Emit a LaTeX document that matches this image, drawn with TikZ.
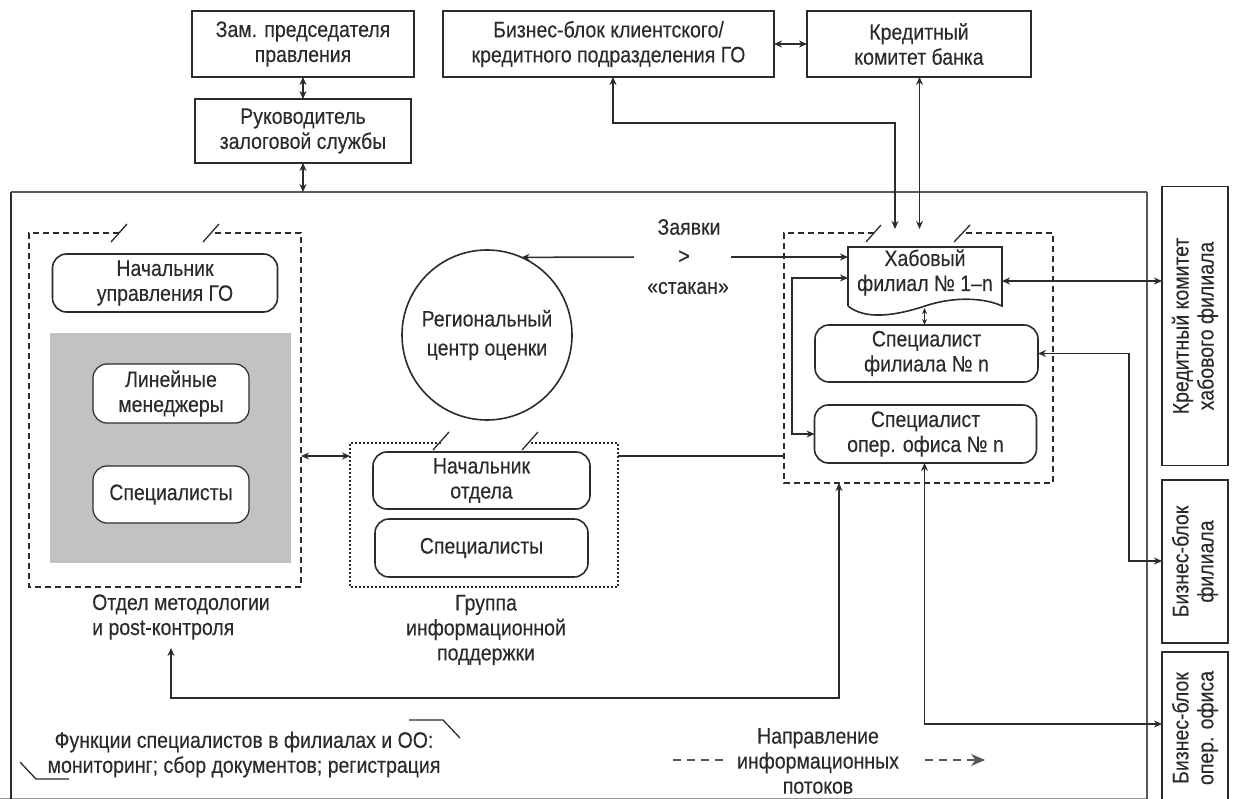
\documentclass[tikz,border=0pt]{standalone}
\usepackage{fontspec}
\setmainfont[FakeStretch=0.87,FakeBold=0.25]{Liberation Sans}
\usetikzlibrary{arrows.meta,calc}
\definecolor{ink}{gray}{0.17}
\tikzset{
  x=1pt,y=-1pt,
  txt/.style={inner sep=0pt,outer sep=0pt,align=center,text=ink,font=\fontsize{22.4}{25}\selectfont},
  plain/.style={txt,draw=ink,line width=1.6pt,rectangle},
  pill/.style={plain,rounded corners=14pt,fill=white},
  sized/.style 2 args={minimum width=#1,minimum height=#2},
  hidden/.style={inner sep=0pt,outer sep=0pt,rectangle},
  wire/.style={draw=ink,line width=1.5pt},
  tipB/.style={wire,{Stealth[length=8pt,width=7pt]}-{Stealth[length=8pt,width=7pt]}},
  tipE/.style={wire,-{Stealth[length=8pt,width=7pt]}},
  dashA/.style={draw=ink,line width=1.6pt,dash pattern=on 6pt off 4pt},
  dashD/.style={draw=ink,line width=1.6pt,dash pattern=on 2pt off 2pt},
  slash/.style={draw=ink,line width=1.3pt},
}
\begin{document}
\begin{tikzpicture}
\path[use as bounding box] (0,0) rectangle (1236,799);
% frame
\node[hidden,sized={1136pt}{607pt}] (frame) at (579,495.5) {};
\draw[gray!85,line width=0.8pt] (0,798) -- (1147,798);
\draw[ink,line width=1.6pt] (frame.south west) -- (frame.north west);
\draw[black!65,line width=2.2pt] (frame.north west) -- (frame.north east);
\draw[black!65,line width=2pt] (frame.north east) -- (frame.south east);
% top boxes
\node[plain,sized={222pt}{66pt}] (zam) at (303,44) {\raisebox{-2pt}{\parbox{200pt}{\centering Зам. председателя\\правления}}};
\node[plain,sized={216pt}{64pt}] (ruk) at (303,131) {Руководитель\\залоговой службы};
\node[plain,sized={331pt}{66pt}] (biz) at (608.5,44) {\raisebox{-2pt}{\parbox{320pt}{\centering Бизнес-блок клиентского/\\кредитного подразделения ГО}}};
\node[plain,sized={224pt}{66pt}] (kred) at (919,44) {Кредитный\\комитет банка};
% side boxes
\node[plain,rotate=90,sized={279pt}{66pt}] (kk) at (1195,326) {Кредитный комитет\\хабового филиала};
\node[plain,rotate=90,sized={163pt}{66pt}] (bf) at (1195,561.5) {Бизнес-блок\\филиала};
\node[plain,rotate=90,sized={152pt}{66pt}] (bo) at (1195,728) {Бизнес-блок\\опер. офиса};
% left group
\node[hidden,sized={272pt}{354pt}] (dl) at (165,410) {};
\draw[dashA] (119,233) -- (dl.north west) -- (dl.south west) -- (dl.south east) -- (dl.north east) -- (211,233);
\draw[slash] (111,242) -- (127,224);
\draw[slash] (203,242) -- (219,224);
\node[pill,sized={225pt}{58pt}] (nach) at (165,283) {Начальник\\управления ГО};
\node[fill=black!24,hidden,sized={241pt}{230pt}] (grayb) at (170.5,448) {};
\node[pill,sized={156pt}{59pt},line width=1.2pt] (lin) at (171,393.5) {Линейные\\менеджеры};
\node[pill,sized={156pt}{57pt},line width=1.2pt] (spl) at (171,494.5) {Специалисты};
\node[txt,align=left] (otd) at (181,617) {Отдел методологии\\и post-контроля};
% centre group
\node[plain,circle,sized={170pt}{170pt}] (circ) at (487,335) {Региональный\\[4pt]центр оценки};
\node[hidden,sized={268pt}{144pt}] (dg) at (484,515) {};
\draw[dashD] (441,443) -- (dg.north west) -- (dg.south west) -- (dg.south east) -- (dg.north east) -- (530,443);
\draw[slash] (433,450) -- (449,432);
\draw[slash] (522,450) -- (538,432);
\node[pill,sized={217pt}{57pt}] (nao) at (481.5,480.5) {Начальник\\отдела};
\node[pill,sized={213pt}{58pt}] (sps) at (481.5,548) {Специалисты};
\node[txt] (grp) at (486,630) {Группа\\информационной\\поддержки};
% requests
\node[txt] (zav) at (689,227) {Заявки};
\node[txt] (gt) at (684,257) {>};
\node[txt] (stak) at (688,288) {«стакан»};
% right group
\node[hidden,sized={269pt}{250pt}] (dr) at (918.5,358) {};
\draw[dashA] (874,233) -- (dr.north west) -- (dr.south west) -- (dr.south east) -- (dr.north east) -- (962,233);
\draw[slash] (866,242) -- (881,225);
\draw[slash] (954,242) -- (970,225);
\node[hidden,sized={154pt}{68pt},txt] (hub) at (925,281) {};
\draw[ink,line width=1.6pt,fill=white] (hub.south west |- 0,306) -- (hub.north west) -- (hub.north east) -- (hub.south east |- 0,306)
  .. controls (985,298) and (955,296) .. (925,306) .. controls (895,316) and (865,320) .. (hub.south west |- 0,306);
\node[txt] (hubt) at (925,272.5) {Хабовый\\филиал № 1–n};
\node[pill,sized={223pt}{57pt}] (spf) at (926.5,353.5) {Специалист\\филиала № n};
\node[pill,sized={222pt}{58pt}] (spo) at (925.5,434) {Специалист\\опер. офиса № n};
% helpers
\coordinate (turnA) at (613,123);
\coordinate (tipA) at (895,229);
\coordinate (tipK) at (919.5,229);
\coordinate (gapL) at (634,257);
\coordinate (gapR) at (731,257);
\coordinate (loopT) at (792,278);
\coordinate (hubw) at (924.5,308);
\coordinate (busF) at (1129,561);
\coordinate (busO) at (924.5,724);
\coordinate (lnk) at (350,456);
\coordinate (retL) at (171,648);
\coordinate (retC) at (171,698);
\coordinate (retR) at (839,698);
% connectors
\draw[tipB] (zam.south) -- (ruk.north);
\draw[tipB] (ruk.south) -- (ruk.south |- frame.north);
\draw[tipB] (biz.east) -- (kred.west);
\draw[tipB] (biz.south -| turnA) -- (turnA) -- (turnA -| tipA) -- (tipA);
\draw[tipB] (kred.south -| tipK) -- (tipK);
\draw[tipB] (dl.east |- lnk) -- (lnk);
\draw[wire] (dg.east |- lnk) -- (dr.west |- lnk);
\draw[tipE] (gapL) -- (circ.66.6);
\draw[tipE] (gapR) -- (hub.west |- gapR);
\draw[tipB] (loopT -| hub.west) -- (loopT) -- (loopT |- spo.west) -- (spo.west);
\draw[tipB] (hub.east) -- (kk.north |- hub.east);
\draw[draw=ink,line width=1.3pt,{Stealth[length=6pt,width=5pt]}-{Stealth[length=6pt,width=5pt]}] (hubw) -- (hubw |- spf.north);
\draw[tipB] (spf.east) -- (spf.east -| busF) -- (busF) -- (bf.north |- busF);
\draw[tipB] (spo.south -| busO) -- (busO) -- (bo.north |- busO);
\draw[tipB] (retL) -- (retC) -- (retR) -- (dr.south -| retR);
% function note
\node[txt] (fun) at (244,754.5) {Функции специалистов в филиалах и ОО:\\мониторинг; сбор документов; регистрация};
\draw[slash] (409,720) -- (443,720) -- (460,738);
\draw[slash] (20,762) -- (36,779) -- (69,779);
% legend
\node[txt] (leg) at (818,761) {Направление\\информационных\\потоков};
\coordinate (lgA) at (673,760);
\coordinate (lgB) at (724,760);
\coordinate (lgC) at (925,760);
\coordinate (lgD) at (985,760);
\draw[draw=ink!80,line width=1.2pt,dash pattern=on 8pt off 6pt] (lgA) -- (lgB);
\draw[draw=ink!80,line width=1.2pt,dash pattern=on 8pt off 6pt,-{Stealth[length=14pt,width=12pt]}] (lgC) -- (lgD);
\end{tikzpicture}
\end{document}
